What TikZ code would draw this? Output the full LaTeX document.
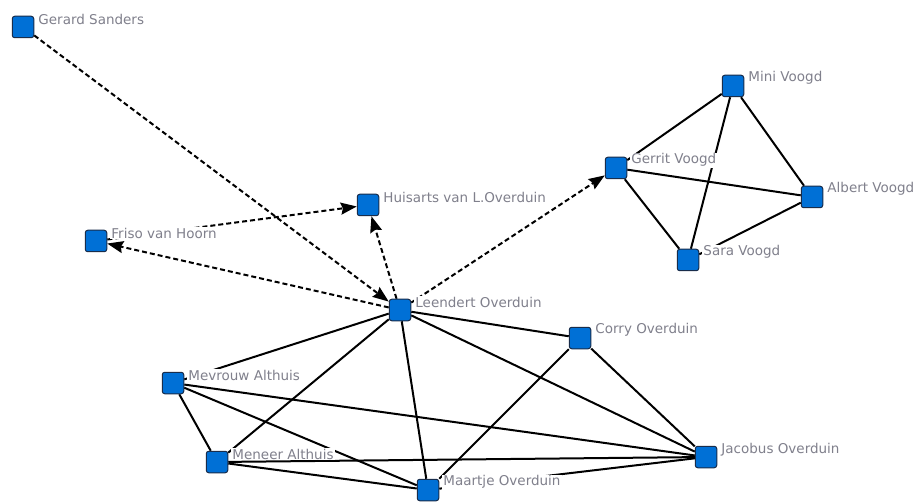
\documentclass[tikz,border=0pt]{standalone}
\usepackage{fontspec}
\setsansfont{DejaVu Sans}
\usetikzlibrary{arrows.meta,backgrounds}
\definecolor{boxblue}{RGB}{0,112,214}
\definecolor{boxline}{RGB}{25,45,75}
\definecolor{namegray}{RGB}{128,128,140}

\begin{document}
\begin{tikzpicture}[x=1pt,y=-1pt,>={Stealth[length=16pt,width=12pt,inset=2pt]},
    person/.style={draw=boxline,fill=boxblue,line width=1pt,rounded corners=2.5pt,minimum size=21.5pt,inner sep=0pt},
    nametag/.style={text=namegray,fill=white,inner sep=1pt,font=\sffamily\fontsize{13.5}{15}\selectfont,anchor=west,xshift=3pt,yshift=-3.5pt},
    link/.style={line width=2pt},
    visit/.style={->,line width=2pt,dash pattern=on 5pt off 3pt}]
    \useasboundingbox (0,0) rectangle (920,502);

    % persons
    \node[person,label={[nametag]north east:Gerard Sanders}] (gerard) at (23,27) {};
    \node[person,label={[nametag]north east:Huisarts van L.Overduin}] (huisarts) at (368,205) {};
    \node[person,label={[nametag]north east:Friso van Hoorn}] (friso) at (96,241) {};
    \node[person,label={[nametag]north east:Leendert Overduin}] (leendert) at (400,310) {};
    \node[person,label={[nametag]north east:Gerrit Voogd}] (gerrit) at (616,168) {};
    \node[person,label={[nametag]north east:Mini Voogd}] (mini) at (733,86) {};
    \node[person,label={[nametag]north east:Albert Voogd}] (albert) at (812,197) {};
    \node[person,label={[nametag]north east:Sara Voogd}] (sara) at (688,260) {};
    \node[person,label={[nametag]north east:Corry Overduin}] (corry) at (580,338) {};
    \node[person,label={[nametag]north east:Mevrouw Althuis}] (mevrouw) at (173,383) {};
    \node[person,label={[nametag]north east:Meneer Althuis}] (meneer) at (217,462) {};
    \node[person,label={[nametag]north east:Maartje Overduin}] (maartje) at (428,490) {};
    \node[person,label={[nametag]north east:Jacobus Overduin}] (jacobus) at (706,457) {};

    \begin{pgfonlayer}{background}
        \fill[white] (0,0) rectangle (920,502);
        % visits
        \draw[visit] (gerard) -- (leendert);
        \draw[visit] (friso) -- (huisarts);
        \draw[visit] (leendert) -- (huisarts);
        \draw[visit] (leendert) -- (friso);
        \draw[visit] (leendert) -- (gerrit);
        % Voogd family
        \draw[link] (gerrit) -- (mini);
        \draw[link] (gerrit) -- (albert);
        \draw[link] (gerrit) -- (sara);
        \draw[link] (mini) -- (albert);
        \draw[link] (mini) -- (sara);
        \draw[link] (albert) -- (sara);
        % Overduin family
        \draw[link] (leendert) -- (corry);
        \draw[link] (leendert) -- (jacobus);
        \draw[link] (leendert) -- (maartje);
        \draw[link] (leendert) -- (mevrouw);
        \draw[link] (leendert) -- (meneer);
        \draw[link] (corry) -- (jacobus);
        \draw[link] (corry) -- (maartje);
        \draw[link] (mevrouw) -- (meneer);
        \draw[link] (mevrouw) -- (jacobus);
        \draw[link] (mevrouw) -- (maartje);
        \draw[link] (meneer) -- (jacobus);
        \draw[link] (meneer) -- (maartje);
        \draw[link] (maartje) -- (jacobus);
    \end{pgfonlayer}
\end{tikzpicture}
\end{document}
